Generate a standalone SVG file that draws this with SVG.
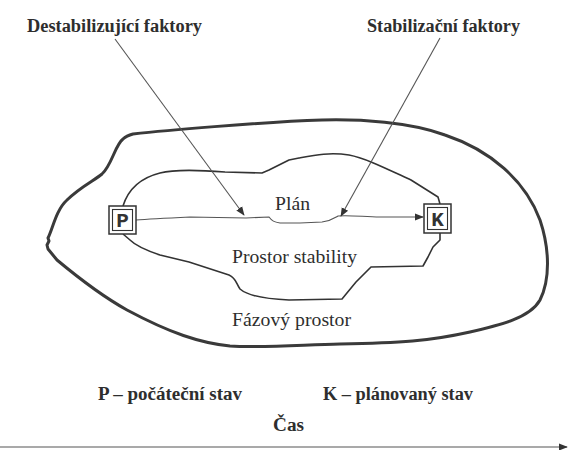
<svg xmlns="http://www.w3.org/2000/svg" width="568" height="450" viewBox="0 0 568 450">
  <style>
    .label { font-family: 'Liberation Serif', 'Times New Roman', serif; fill: #2e2e2e; }
    .bold { font-weight: bold; }
    .outer { fill: none; stroke: #3a3a3a; stroke-width: 3; stroke-linejoin: round; }
    .inner { fill: none; stroke: #333; stroke-width: 1.6; stroke-linejoin: round; }
    .thin { fill: none; stroke: #555; stroke-width: 1.1; }
    .box { fill: #fff; stroke: #333; stroke-width: 1.5; }
    .boxin { fill: none; stroke: #333; stroke-width: 1.1; }
    .state { font-family: 'Liberation Mono', 'Courier New', monospace; font-weight: bold; font-size: 21px; fill: #333; text-anchor: middle; }
  </style>
  <defs>
    <marker id="arrow" viewBox="0 0 10 10" refX="9" refY="5" markerWidth="9" markerHeight="9" markerUnits="userSpaceOnUse" orient="auto">
      <path d="M0,1 L10,5 L0,9 Z" fill="#333"/>
    </marker>
  </defs>

  <!-- phase space -->
  <g id="phase-space">
    <path class="outer" d="M133,134 C160,131 260,122 322,120 C360,119 410,122 445,135 C490,150 525,180 540,220 C550,250 550,280 540,300 C530,318 500,325 470,332 C430,341 400,343 340,344 C300,345 260,348 230,346 C200,343 170,333 127,310 C100,295 75,275 57,260 L48,249 L47,245 L49,241 L48,238 C53,228 56,210 67,200 C80,187 95,180 102,174 C112,165 115,145 123,139 C126,136 129,135 133,134 Z"/>
    <text class="label" font-family="Liberation Serif, serif" x="232" y="326" font-size="19.5" textLength="119" lengthAdjust="spacingAndGlyphs">Fázový prostor</text>
  </g>

  <!-- stability space -->
  <g id="stability-space">
    <path class="inner" d="M123,206 C128,190 140,178 160,173 C175,169 200,170 225,172 L262,173 L269,170 L289,160 L299,158 C315,155 330,152 349,155 C365,158 385,168 411,180 L438,197 L440,204 M440,233 L440,240 L433,247 L428,257 L423,266 L371,267 L356,282 L342,299 L289,300 C265,299 248,296 240,289 C236,283 236,278 229,275 L189,262 L160,255 C148,251 135,245 130,240 L123,234"/>
    <text class="label" font-family="Liberation Serif, serif" x="232" y="263" font-size="19.5" textLength="125" lengthAdjust="spacingAndGlyphs">Prostor stability</text>
  </g>

  <!-- plan trajectory label -->
  <g id="plan">
    <text class="label" font-family="Liberation Serif, serif" x="275" y="210" font-size="19.5" textLength="35" lengthAdjust="spacingAndGlyphs">Plán</text>
  </g>

  <!-- connectors -->
  <g id="connectors">
    <path class="thin" marker-end="url(#arrow)" d="M136,220 C150,219 170,218 190,217 L246,218 L269,217 C272,221 274,222 280,223 L300,223 L322,222 C330,221 333,219 338,216 C345,215 355,216 380,217 L423,217"/>
    <line class="thin" x1="115" y1="39" x2="244" y2="215" marker-end="url(#arrow)"/>
    <line class="thin" x1="440" y1="38" x2="341" y2="216" marker-end="url(#arrow)"/>
    <line class="thin" x1="0" y1="447" x2="567" y2="447" marker-end="url(#arrow)"/>
  </g>

  <!-- initial state -->
  <g id="state-P">
    <rect class="box" x="109" y="206" width="27" height="28"/>
    <rect class="boxin" x="112.5" y="209.5" width="20" height="21"/>
    <text class="state" font-family="Liberation Mono, monospace" x="122.5" y="227">P</text>
  </g>

  <!-- planned state -->
  <g id="state-K">
    <rect class="box" x="424" y="204" width="27" height="29"/>
    <rect class="boxin" x="427.5" y="207.5" width="20" height="22"/>
    <text class="state" font-family="Liberation Mono, monospace" x="437.5" y="225.5">K</text>
  </g>

  <!-- factors -->
  <g id="destabilizing-factors">
    <text class="label bold" font-family="Liberation Serif, serif" x="27" y="32" font-size="18" textLength="175" lengthAdjust="spacingAndGlyphs">Destabilizující faktory</text>
  </g>
  <g id="stabilizing-factors">
    <text class="label bold" font-family="Liberation Serif, serif" x="367" y="32" font-size="18" textLength="153" lengthAdjust="spacingAndGlyphs">Stabilizační faktory</text>
  </g>

  <!-- legend -->
  <g id="legend">
    <text class="label bold" font-family="Liberation Serif, serif" x="98" y="400" font-size="18" textLength="144" lengthAdjust="spacingAndGlyphs">P – počáteční stav</text>
    <text class="label bold" font-family="Liberation Serif, serif" x="323" y="400" font-size="18" textLength="150" lengthAdjust="spacingAndGlyphs">K – plánovaný stav</text>
    <text class="label bold" font-family="Liberation Serif, serif" x="273" y="431" font-size="18" textLength="31" lengthAdjust="spacingAndGlyphs">Čas</text>
  </g>
</svg>
